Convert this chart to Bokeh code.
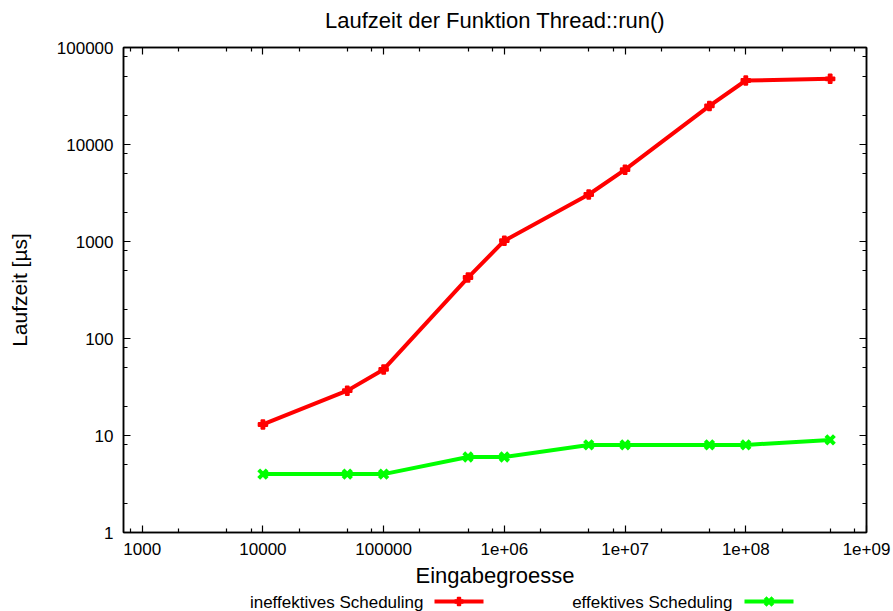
from bokeh.plotting import figure
from bokeh.layouts import column
from bokeh.models import LogAxis, FixedTicker, Label, Range1d, ColumnDataSource
from bokeh.embed import file_html
from bokeh.resources import INLINE

# Measured run times of Thread::run() in microseconds
eingabegroesse = [1e4, 5e4, 1e5, 5e5, 1e6, 5e6, 1e7, 5e7, 1e8, 5e8]
ineffektiv = [13, 29, 48, 425, 1020, 3050, 5500, 25000, 45700, 47500]
effektiv = [4, 4, 4, 6, 6, 8, 8, 8, 8, 9]

titel = "Laufzeit der Funktion Thread::run()"
serie_namen = ["ineffektives Scheduling", "effektives Scheduling"]
serie_farben = ["#ff0000", "#00ff00"]

x_ticks = [1e3, 1e4, 1e5, 1e6, 1e7, 1e8, 1e9]
x_tick_labels = ["1000", "10000", "100000", "1e+06", "1e+07", "1e+08", "1e+09"]
y_ticks = [1, 10, 100, 1000, 10000, 100000]
y_tick_labels = ["1", "10", "100", "1000", "10000", "100000"]

FONT = "Liberation Sans"
W, H = 893, 611
LEFT, RIGHT = 123, 27
FRAME_TOP = 47
TOP_H, KEY_H = 35, 21          # title strip and key strip heights
MAIN_TOP = FRAME_TOP - TOP_H   # border above the plot frame
MAIN_H = H - TOP_H - KEY_H


def minor_ticks(decades):
    out = []
    for d in decades:
        out += [2 * d, 5 * d, 8 * d]
    return out


x_minor = minor_ticks([1e2, 1e3, 1e4, 1e5, 1e6, 1e7, 1e8])
y_minor = minor_ticks([1, 10, 100, 1000, 10000])


def strip(y0, h):
    """A bare figure whose data coordinates are page pixels."""
    f = figure(width=W, height=h, x_range=Range1d(LEFT, W - RIGHT),
               y_range=Range1d(y0 + h, y0),
               output_backend="svg", toolbar_location=None,
               min_border_left=LEFT, min_border_right=RIGHT,
               min_border_top=0, min_border_bottom=0, outline_line_color=None)
    f.axis.visible = False
    f.grid.visible = False
    return f


# title strip
head = strip(0, TOP_H)
head.add_layout(Label(x=(LEFT + W - RIGHT) / 2, y=20, text=titel,
                      text_align="center", text_baseline="middle",
                      text_font=FONT, text_font_size="22px", text_color="black"))

# main chart
p = figure(width=W, height=MAIN_H, x_axis_type="log", y_axis_type="log",
           x_range=Range1d(700, 1e9), y_range=Range1d(1, 1e5),
           output_backend="svg", toolbar_location=None,
           min_border_left=LEFT, min_border_right=RIGHT,
           min_border_top=MAIN_TOP, min_border_bottom=58)
p.xgrid.visible = False
p.ygrid.visible = False
p.outline_line_color = "black"
p.outline_line_width = 1.5
p.background_fill_color = "white"
p.border_fill_color = "white"


def style_axis(ax, ticks, minor, labels, show_labels):
    ax.ticker = FixedTicker(ticks=ticks, minor_ticks=minor)
    ax.major_tick_in = 7
    ax.major_tick_out = 0
    ax.minor_tick_in = 4
    ax.minor_tick_out = 0
    ax.major_tick_line_color = "black"
    ax.minor_tick_line_color = "black"
    ax.major_tick_line_width = 1.2
    ax.minor_tick_line_width = 1.2
    ax.axis_line_color = "black"
    ax.axis_line_width = 1.5
    if show_labels:
        ax.major_label_overrides = {t: s for t, s in zip(ticks, labels)}
        ax.major_label_text_font = FONT
        ax.major_label_text_font_size = "17px"
        ax.major_label_text_color = "black"
        ax.major_label_standoff = 10
    else:
        ax.major_label_text_font_size = "0px"
        ax.major_label_text_color = None
        ax.major_label_standoff = 0


xaxis = p.xaxis[0]
yaxis = p.yaxis[0]
style_axis(xaxis, x_ticks, x_minor, x_tick_labels, True)
style_axis(yaxis, y_ticks, y_minor, y_tick_labels, True)

xaxis.axis_label = "Eingabegroesse"
xaxis.axis_label_text_font = FONT
xaxis.axis_label_text_font_size = "22px"
xaxis.axis_label_text_font_style = "normal"
xaxis.axis_label_text_color = "black"
xaxis.axis_label_standoff = 5

yaxis.axis_label = "Laufzeit [µs]"
yaxis.axis_label_text_font = FONT
yaxis.axis_label_text_font_size = "21px"
yaxis.axis_label_text_font_style = "normal"
yaxis.axis_label_text_color = "black"
yaxis.axis_label_standoff = 23

# mirrored tick marks on the top and right borders
top_axis = LogAxis()
right_axis = LogAxis()
style_axis(top_axis, x_ticks, x_minor, x_tick_labels, False)
style_axis(right_axis, y_ticks, y_minor, y_tick_labels, False)
p.add_layout(top_axis, "above")
p.add_layout(right_axis, "right")

src = ColumnDataSource(dict(x=eingabegroesse, a=ineffektiv, b=effektiv))


def draw_series(fig, source, xcol, ycol, farbe, marker, msize=None):
    fig.line(xcol, ycol, source=source, line_color=farbe, line_width=4)
    if marker == "plus":
        fig.scatter(xcol, ycol, source=source, marker="plus", size=msize or 9,
                    fill_color=farbe, line_color=farbe, line_width=1.5)
    else:
        fig.scatter(xcol, ycol, source=source, marker="x", size=msize or 12,
                    line_color=farbe, line_width=4)


draw_series(p, src, "x", "a", serie_farben[0], "plus")
draw_series(p, src, "x", "b", serie_farben[1], "x")

# key strip: series name on the left, line sample with marker to the right
key = strip(H - KEY_H, KEY_H)
key_text_right = [423, 732]
key_sample = [(434, 483), (744, 793)]
key_y = 601
for name, farbe, mk, tx, (x0, x1) in zip(serie_namen, serie_farben, ["plus", "x"],
                                          key_text_right, key_sample):
    ks = ColumnDataSource(dict(x=[x0, x1], y=[key_y, key_y]))
    key.line("x", "y", source=ks, line_color=farbe, line_width=4)
    km = ColumnDataSource(dict(x=[(x0 + x1) / 2], y=[key_y]))
    draw_series(key, km, "x", "y", farbe, mk, msize=8 if mk == "plus" else 11)
    key.add_layout(Label(x=tx, y=602, text=name, text_align="right",
                         text_baseline="middle", text_font=FONT,
                         text_font_size="17px", text_color="black"))

open("out.html", "w").write(file_html(column(head, p, key, spacing=0), INLINE))
